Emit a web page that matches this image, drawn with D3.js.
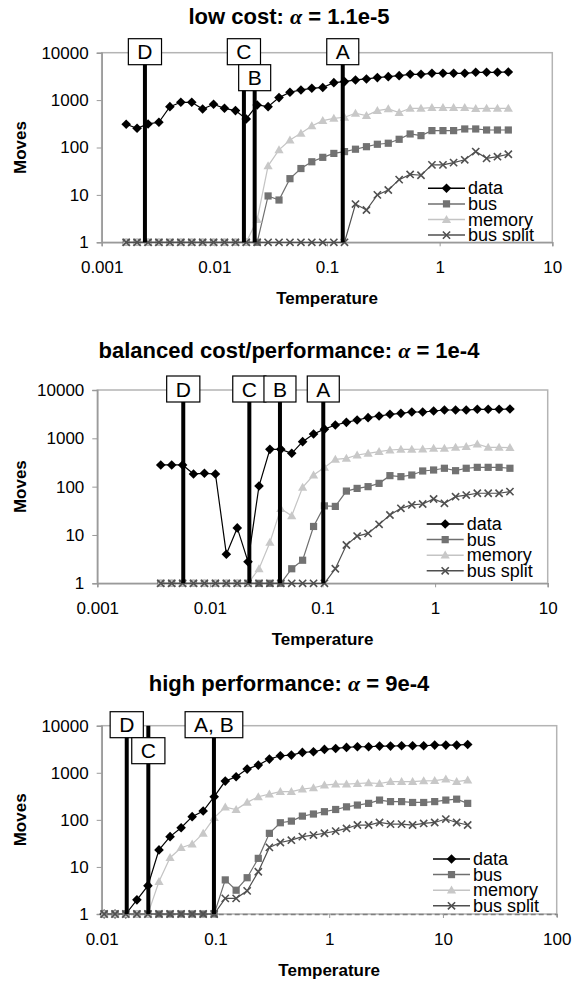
<!DOCTYPE html>
<html>
<head>
<meta charset="utf-8">
<script src="https://cdn.jsdelivr.net/npm/d3@7"></script>
<style>
body { margin: 0; background: #fff; }
svg text { font-family: "Liberation Sans", Arial, sans-serif; fill: #000; }
</style>
</head>
<body>
<div id="viz"></div>
<script>
// ---- data ----
var yTicks = [1, 10, 100, 1000, 10000];
var seriesNames = ["data", "bus", "memory", "bus split"];

// low cost
var titleLow = ["low cost: ", "\u03b1", " = 1.1e-5"];
var xTicksLow = [0.001, 0.01, 0.1, 1, 10];
var xLabelsLow = ["0.001", "0.01", "0.1", "1", "10"];
var tempLow = [0.00165, 0.00206, 0.00258, 0.00322, 0.00403, 0.00504, 0.0063, 0.00787, 0.00984, 0.0123,
    0.0154, 0.0192, 0.024, 0.03, 0.0375, 0.0469, 0.0587, 0.0733, 0.0917, 0.115,
    0.143, 0.179, 0.224, 0.28, 0.35, 0.437, 0.547, 0.683, 0.854, 1.07,
    1.33, 1.67, 2.09, 2.61, 3.26, 4.07];
var dataLow = [309, 254, 314, 340, 728, 899, 899, 650, 815, 671,
    600, 400, 789, 728, 1128, 1462, 1637, 1775, 1850, 2336,
    2455, 2660, 2793, 2980, 3127, 3283, 3500, 3500, 3675, 3675,
    3675, 3675, 3855, 3855, 3855, 3930];
var busLow = [1, 1, 1, 1, 1, 1, 1, 1, 1, 1,
    1, 1, 1, 9.5, 7.8, 22, 36, 50, 62, 75,
    82, 92, 104, 117, 123, 149, 193, 178, 227, 227,
    227, 246, 246, 234, 234, 234];
var memLow = [1, 1, 1, 1, 1, 1, 1, 1, 1, 1,
    1, 1, 3, 41, 89, 144, 199, 285, 369, 413,
    434, 527, 470, 600, 650, 544, 671, 671, 693, 693,
    693, 693, 660, 671, 671, 671];
var splitLow = [1, 1, 1, 1, 1, 1, 1, 1, 1, 1,
    1, 1, 1, 1, 1, 1, 1, 1, 1, 1,
    1, 6.4, 4.8, 10, 12.7, 21, 27, 26, 43, 43,
    48, 55, 82, 59, 64, 72];
var markLow = ["D", "C", "B", "A"];
var markLowT = [0.00242, 0.0183, 0.0228, 0.138];
var markLowRow = [0, 0, 1, 0];

// balanced cost/performance
var titleBal = ["balanced cost/performance: ", "\u03b1", " = 1e-4"];
var xTicksBal = [0.001, 0.01, 0.1, 1, 10];
var xLabelsBal = ["0.001", "0.01", "0.1", "1", "10"];
var tempBal = [0.00366, 0.00458, 0.00572, 0.00715, 0.00894, 0.0112, 0.014, 0.0175, 0.0218, 0.0273,
    0.0341, 0.0426, 0.0533, 0.0666, 0.0833, 0.104, 0.13, 0.163, 0.203, 0.254,
    0.318, 0.397, 0.497, 0.621, 0.776, 0.97, 1.21, 1.52, 1.89, 2.37,
    2.96, 3.7, 4.62];
var dataBal = [281, 281, 281, 183, 189, 183, 4, 14, 2.8, 103,
    592, 592, 490, 853, 1230, 1550, 1888, 2143, 2393, 2677,
    2898, 3140, 3290, 3507, 3507, 3679, 3857, 3857, 3857, 3983,
    3983, 3983, 4046];
var busBal = [1, 1, 1, 1, 1, 1, 1, 1, 1, 1,
    1, 1, 2, 3, 15, 40, 39, 81, 92, 100,
    117, 169, 161, 174, 211, 221, 240, 214, 240, 251,
    251, 251, 240];
var memBal = [1, 1, 1, 1, 1, 1, 1, 1, 1, 2,
    7, 35, 25, 97, 174, 250, 368, 386, 452, 490,
    530, 574, 592, 592, 601, 621, 621, 651, 673, 763,
    651, 651, 641];
var splitBal = [1, 1, 1, 1, 1, 1, 1, 1, 1, 1,
    1, 1, 1, 1, 1, 1, 2, 6.2, 9.5, 10.8,
    16.6, 25.9, 35.6, 41.8, 43.8, 55.6, 45.2, 62, 67, 73,
    73, 73, 79];
var markBal = ["D", "C", "B", "A"];
var markBalT = [0.0058, 0.0224, 0.0419, 0.1016];
var markBalRow = [0, 0, 0, 0];

// high performance
var titleHigh = ["high performance: ", "\u03b1", " = 9e-4"];
var xTicksHigh = [0.01, 0.1, 1, 10, 100];
var xLabelsHigh = ["0.01", "0.1", "1", "10", "100"];
var tempHigh = [0.0105, 0.0131, 0.0163, 0.0204, 0.0255, 0.0319, 0.0399, 0.0499, 0.0624, 0.078,
    0.0975, 0.122, 0.152, 0.19, 0.238, 0.298, 0.372, 0.465, 0.581, 0.727,
    0.908, 1.14, 1.42, 1.77, 2.22, 2.77, 3.46, 4.33, 5.41, 6.77,
    8.46, 10.6, 13.2, 16.5];
var dataHigh = [1, 1, 1, 2, 4, 23, 44, 68, 117, 154,
    310, 666, 824, 1198, 1457, 1954, 2300, 2376, 2706, 2798,
    3134, 3290, 3456, 3570, 3570, 3687, 3687, 3750, 3750, 3750,
    3875, 3875, 3875, 4000];
var busHigh = [1, 1, 1, 1, 1, 1, 1, 1, 1, 1,
    1, 5.3, 3.2, 5.9, 15.2, 51.7, 86.8, 94, 120, 133,
    149, 166, 189, 206, 224, 263, 244, 244, 234, 234,
    244, 263, 275, 224];
var memHigh = [1, 1, 1, 1, 1, 4.9, 15.7, 25.6, 30.6, 51.6,
    111, 187, 166, 235, 309, 353, 397, 397, 450, 480,
    547, 573, 573, 592, 613, 592, 646, 646, 646, 670,
    681, 736, 646, 700];
var splitHigh = [1, 1, 1, 1, 1, 1, 1, 1, 1, 1,
    1, 2.15, 2.15, 3.1, 7.9, 26, 33, 37, 44, 47.5,
    52, 57.6, 65.7, 77.6, 77.6, 88, 81, 81, 77.6, 84,
    88, 104, 88, 77.6];
var markHigh = ["D", "C", "A, B"];
var markHighT = [0.0166, 0.0257, 0.097];
var markHighRow = [0, 1, 0];

// ---- styles for the four series ----
var seriesStyle = [
    {line: "#000", fill: "#000", shape: "diamond"},
    {line: "#6f6f6f", fill: "#727272", shape: "square"},
    {line: "#c4c4c4", fill: "#c8c8c8", shape: "triangle"},
    {line: "#4f4f4f", fill: "#505050", shape: "x"}
];

var shapes = {
    diamond: "M0,-4.8L4.8,0L0,4.8L-4.8,0Z",
    square: "M-3.6,-3.6h7.2v7.2h-7.2Z",
    triangle: "M0,-4.6L4.6,3.4L-4.6,3.4Z",
    x: "M-3.6,-3.6L3.6,3.6M-3.6,3.6L3.6,-3.6"
};

var svg = d3.select("#viz")
    .append("svg")
    .attr("width", 574)
    .attr("height", 983);

function addMarker(g, cx, cy, st) {
    var m = g.append("path")
        .attr("d", shapes[st.shape])
        .attr("transform", "translate(" + cx + "," + cy + ")");
    if (st.shape == "x") {
        m.attr("fill", "none").attr("stroke", st.fill).attr("stroke-width", 1.6);
    } else {
        m.attr("fill", st.fill).attr("stroke", "none");
    }
}

function drawPanel(p, idx) {
    var x = d3.scaleLog().domain(p.xDomain).range([p.left, p.right]);
    var y = d3.scaleLog().domain([1, 10000]).range([p.bottom, p.top]);
    var g = svg.append("g");

    // title
    var title = g.append("text")
        .attr("x", 289)
        .attr("y", p.titleY + 8)
        .attr("text-anchor", "middle")
        .style("font-size", "22px")
        .style("font-weight", "bold");
    title.append("tspan").text(p.title[0]);
    title.append("tspan").text(p.title[1])
        .style("font-family", "'Liberation Serif', 'DejaVu Serif', serif")
        .style("font-style", "italic");
    title.append("tspan").text(p.title[2]);

    // frame
    g.append("rect")
        .attr("x", p.left).attr("y", p.top)
        .attr("width", p.right - p.left).attr("height", p.bottom - p.top)
        .attr("fill", "none")
        .attr("stroke", "#b4b4b4")
        .attr("stroke-width", 1.5);

    // axes
    var yAxis = g.append("g")
        .attr("transform", "translate(" + p.left + ",0)")
        .call(d3.axisLeft(y).tickValues(yTicks).tickSize(5).tickPadding(8)
            .tickFormat(function(d) { return String(d); }));
    var xAxis = g.append("g")
        .attr("transform", "translate(0," + p.bottom + ")")
        .call(d3.axisBottom(x).tickValues(p.xTicks).tickSize(4).tickPadding(15)
            .tickFormat(function(d, i) { return p.xLabels[i]; }));
    [yAxis, xAxis].forEach(function(a) {
        a.select(".domain").attr("stroke", "#9a9a9a").attr("stroke-width", 1.5);
        a.selectAll(".tick line").attr("stroke", "#9a9a9a");
        a.selectAll("text").style("font-size", "17px").attr("fill", "#000");
    });
    if (p.dashedBase) {
        xAxis.select(".domain").attr("stroke", "#808080").attr("stroke-dasharray", "5,3");
    }

    g.append("text")
        .attr("x", (p.left + p.right) / 2)
        .attr("y", p.bottom + 62)
        .attr("text-anchor", "middle")
        .style("font-size", "17px")
        .style("font-weight", "bold")
        .text("Temperature");
    g.append("text")
        .attr("transform", "translate(26," + (p.top + p.bottom) / 2 + ") rotate(-90)")
        .attr("text-anchor", "middle")
        .style("font-size", "17px")
        .style("font-weight", "bold")
        .text("Moves");

    // series
    var line = d3.line()
        .x(function(d) { return x(d[0]); })
        .y(function(d) { return y(d[1]); });
    p.series.forEach(function(vals, s) {
        var pts = d3.zip(p.temp, vals);
        var st = seriesStyle[s];
        g.append("path")
            .datum(pts)
            .attr("d", line)
            .attr("fill", "none")
            .attr("stroke", st.line)
            .attr("stroke-width", 1.2);
        pts.forEach(function(d) {
            addMarker(g, x(d[0]), y(d[1]), st);
        });
    });

    // marker lines and labelled boxes
    p.markT.forEach(function(t) {
        g.append("line")
            .attr("x1", x(t)).attr("x2", x(t))
            .attr("y1", y(1)).attr("y2", p.top)
            .attr("stroke", "#000")
            .attr("stroke-width", 4);
    });
    p.marks.forEach(function(name, i) {
        var cx = x(p.markT[i]);
        var top = p.top - 14 + p.markRow[i] * 26;
        var box = g.append("rect");
        var lbl = g.append("text")
            .attr("x", cx)
            .attr("y", top + 13 + 7.5)
            .attr("text-anchor", "middle")
            .style("font-size", "21px")
            .text(name);
        var w = lbl.node().getComputedTextLength() + 18;
        box.attr("x", cx - w / 2).attr("y", top)
            .attr("width", w).attr("height", 26)
            .attr("fill", "#fff")
            .attr("stroke", "#000")
            .attr("stroke-width", 1.2);
    });

    // legend, clipped to the plot area like the original
    var clipId = "clip" + idx;
    svg.append("clipPath").attr("id", clipId)
        .append("rect")
        .attr("x", p.left).attr("y", p.top)
        .attr("width", p.right - p.left).attr("height", p.bottom - p.top - 1);
    var leg = g.append("g").attr("clip-path", "url(#" + clipId + ")");
    seriesNames.forEach(function(name, s) {
        var ly = p.legY + s * 15.6;
        var st = seriesStyle[s];
        leg.append("line")
            .attr("x1", p.legX).attr("x2", p.legX + 37)
            .attr("y1", ly).attr("y2", ly)
            .attr("stroke", st.line)
            .attr("stroke-width", 1.5);
        addMarker(leg, p.legX + 18.5, ly, st);
        leg.append("text")
            .attr("x", p.legX + 40)
            .attr("y", ly + 6)
            .style("font-size", "18px")
            .text(name);
    });
}

var panels = [
    {title: titleLow, titleY: 16, xDomain: [0.001, 10], xTicks: xTicksLow, xLabels: xLabelsLow,
     left: 101.7, right: 552.3, top: 52.7, bottom: 242.3,
     temp: tempLow, series: [dataLow, busLow, memLow, splitLow],
     marks: markLow, markT: markLowT, markRow: markLowRow, legX: 428, legY: 188.3},
    {title: titleBal, titleY: 350, xDomain: [0.001, 10], xTicks: xTicksBal, xLabels: xLabelsBal,
     left: 97.3, right: 547.7, top: 390, bottom: 583.3,
     temp: tempBal, series: [dataBal, busBal, memBal, splitBal],
     marks: markBal, markT: markBalT, markRow: markBalRow, legX: 426.7, legY: 524},
    {title: titleHigh, titleY: 683, xDomain: [0.01, 100], xTicks: xTicksHigh, xLabels: xLabelsHigh,
     left: 101.7, right: 556.7, top: 725.7, bottom: 914, dashedBase: true,
     temp: tempHigh, series: [dataHigh, busHigh, memHigh, splitHigh],
     marks: markHigh, markT: markHighT, markRow: markHighRow, legX: 433, legY: 859}
];

panels.forEach(drawPanel);
</script>
</body>
</html>
